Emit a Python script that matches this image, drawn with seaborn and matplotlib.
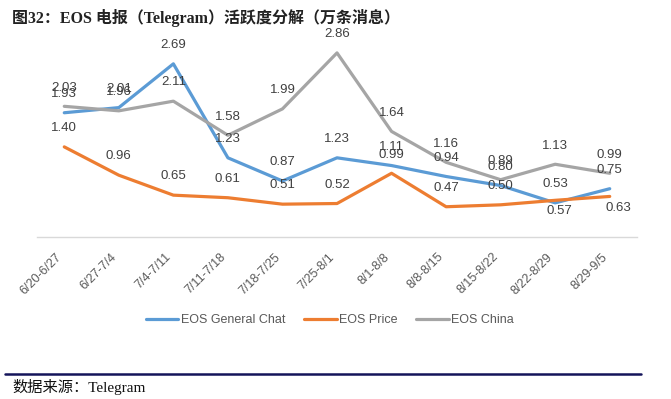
import pandas as pd
import matplotlib
matplotlib.use("Agg")
import matplotlib.pyplot as plt
import seaborn as sns

# data
weeks = ["6/20-6/27", "6/27-7/4", "7/4-7/11", "7/11-7/18", "7/18-7/25", "7/25-8/1",
         "8/1-8/8", "8/8-8/15", "8/15-8/22", "8/22-8/29", "8/29-9/5"]
general_chat = [1.93, 2.01, 2.69, 1.23, 0.87, 1.23, 1.11, 0.94, 0.80, 0.53, 0.75]
eos_price = [1.40, 0.96, 0.65, 0.61, 0.51, 0.52, 0.99, 0.47, 0.50, 0.57, 0.63]
eos_china = [2.03, 1.96, 2.11, 1.58, 1.99, 2.86, 1.64, 1.16, 0.89, 1.13, 0.99]
series_names = ["EOS General Chat", "EOS Price", "EOS China"]

title = "图32：EOS 电报（Telegram）活跃度分解（万条消息）"
source = "数据来源：Telegram"

df = pd.DataFrame({
    "week": weeks * 3,
    "value": general_chat + eos_price + eos_china,
    "series": [series_names[0]] * len(weeks) + [series_names[1]] * len(weeks) + [series_names[2]] * len(weeks),
})

palette = {
    "EOS General Chat": "#5B9BD5",
    "EOS Price": "#ED7D31",
    "EOS China": "#A5A5A5",
}

sns.set_style("white")
cjk_serif = ["Liberation Serif", "Noto Sans CJK SC"]

fig = plt.figure(figsize=(6.71, 3.99), dpi=100)
ax = fig.add_axes([37 / 671, 1 - 237 / 399, 600 / 671, 206 / 399])

sns.lineplot(data=df, x="week", y="value", hue="series", palette=palette,
             linewidth=2.3, sort=False, ax=ax, legend=True)

ax.set_ylim(0, 3.2)
ax.set_xlim(-0.5, len(weeks) - 0.5)

# data labels (Excel style: above the point, a couple below)
for name in series_names:
    sub = df[df["series"] == name].reset_index(drop=True)
    for i, row in sub.iterrows():
        dy = 13.5
        dx = 0
        if name == "EOS Price" and i >= 9:
            dy = -8
            dx = 3 if i == 9 else 6
        ax.annotate(f"{row['value']:.2f}", (row["week"], row["value"]),
                    xytext=(dx, dy), textcoords="offset points",
                    ha="center", va="center", fontsize=9.5, color="#404040",
                    family="Liberation Sans")

ax.set_xlabel("")
ax.set_ylabel("")
ax.set_yticks([])
for s in ["top", "right", "left"]:
    ax.spines[s].set_visible(False)
ax.spines["bottom"].set_color("#D9D9D9")
ax.spines["bottom"].set_linewidth(1)
ax.tick_params(axis="x", length=0, pad=10, colors="#595959")
plt.setp(ax.get_xticklabels(), rotation=45, ha="right", fontsize=9,
         family="Liberation Sans")

handles, labels = ax.get_legend_handles_labels()
ax.legend(handles, labels, loc="center", bbox_to_anchor=(330 / 671, 1 - 320 / 399),
          bbox_transform=fig.transFigure, ncol=3, frameon=False,
          handlelength=2.6, handletextpad=0.2, columnspacing=1.5,
          prop={"family": "Liberation Sans", "size": 9})
for t in ax.get_legend().get_texts():
    t.set_color("#595959")

fig.text(12 / 671, 1 - 18 / 399, title, fontsize=11.5, fontweight="bold",
         family=cjk_serif, color="#222222", ha="left", va="center")
fig.add_artist(plt.Line2D([5 / 671, 641 / 671], [1 - 374 / 399, 1 - 374 / 399],
                          color="#14145A", linewidth=1.8, transform=fig.transFigure))
fig.text(12 / 671, 1 - 387 / 399, source, fontsize=11, family=cjk_serif,
         color="#111111", ha="left", va="center")

fig.savefig("out.png", dpi=100, facecolor="white")
